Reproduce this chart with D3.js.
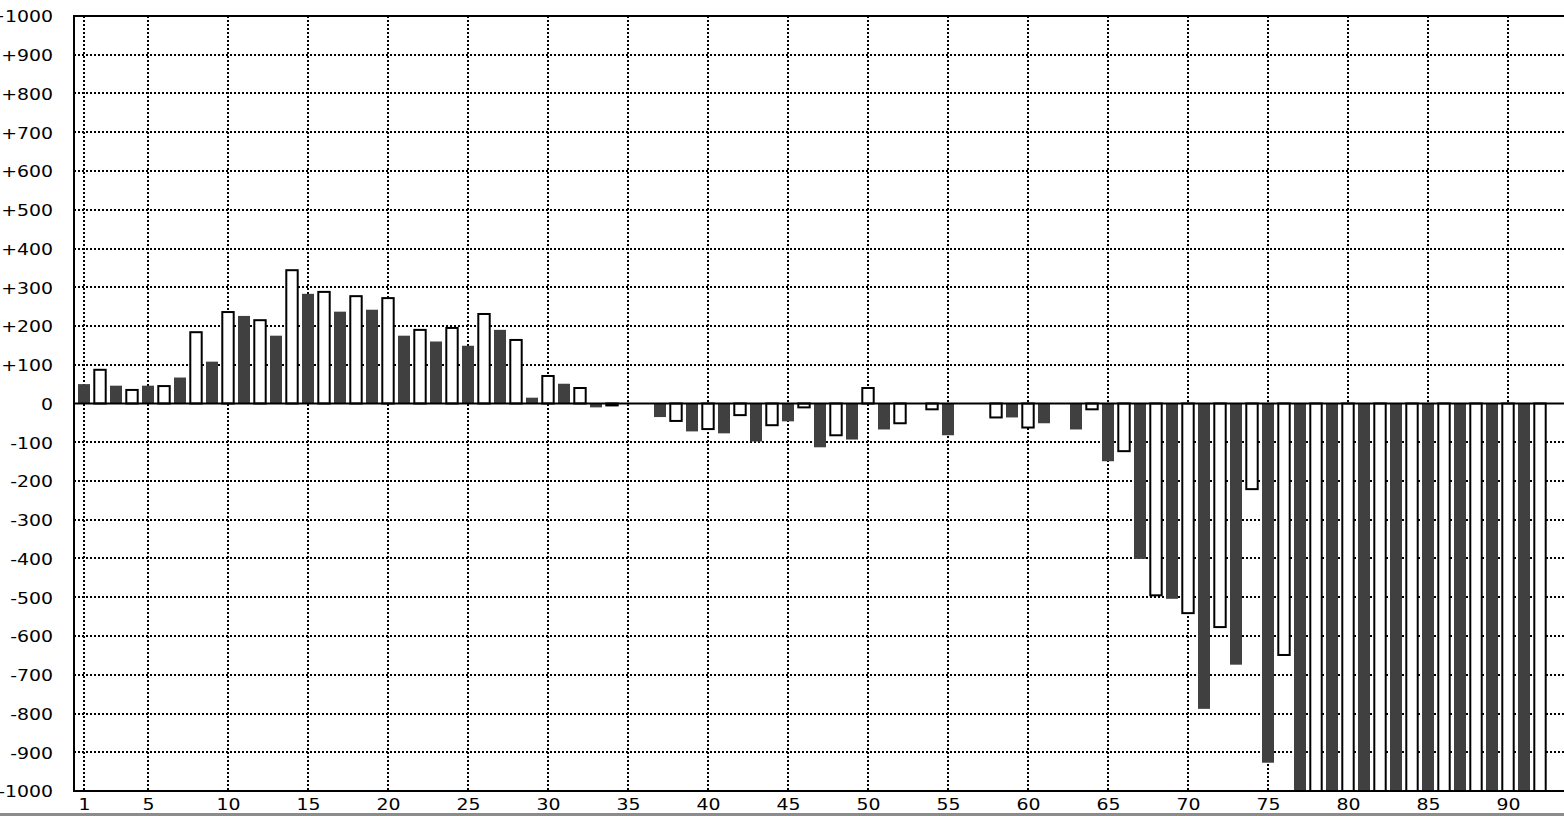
<!DOCTYPE html>
<html>
<head>
<meta charset="utf-8">
<script src="https://cdn.jsdelivr.net/npm/d3@7"></script>
<style>
  html, body { margin: 0; padding: 0; background: #fff; }
  svg { display: block; }
</style>
</head>
<body>
<svg id="chart" width="1564" height="816"></svg>
<script>
// ---- data ----
const categories = d3.range(1, 93); // 1..92
const values = [
  50, 87, 46, 35, 46, 45, 67, 184, 108, 236,
  226, 215, 175, 344, 283, 288, 237, 277, 242, 272,
  175, 190, 160, 195, 149, 231, 190, 164, 15, 71,
  51, 40, -10, -5, null, null, -35, -45, -72, -66,
  -77, -30, -98, -56, -46, -10, -113, -82, -93, 40,
  -67, -51, null, -15, -82, null, null, -36, -36, -62,
  -51, null, -67, -15, -149, -123, -401, -495, -504, -541,
  -788, -577, -674, -221, -927, -649, -1000, -1000, -1000, -1000,
  -1000, -1000, -1000, -1000, -1000, -1000, -1000, -1000, -1000, -1000,
  -1000, -1000
];
const yTicks = [1000, 900, 800, 700, 600, 500, 400, 300, 200, 100, 0,
  -100, -200, -300, -400, -500, -600, -700, -800, -900, -1000];
const xTicks = [1, 5, 10, 15, 20, 25, 30, 35, 40, 45, 50, 55, 60, 65, 70, 75, 80, 85, 90];

// ---- layout ----
const W = 1564, H = 816;
const pL = 74, pR = 1564, pT = 16, pB = 791;
const svg = d3.select('#chart');

const x = d3.scaleLinear().domain([1, 92]).range([84, 1540]);
const y = d3.scaleLinear().domain([-1000, 1000]).range([pB, pT]);
const FONT = '"DejaVu Sans", Verdana, sans-serif';
const SX = 1.18;

svg.append('defs').append('clipPath').attr('id', 'plotclip')
  .append('rect').attr('x', pL).attr('y', pT).attr('width', pR - pL).attr('height', pB - pT);

// grid
const grid = svg.append('g').attr('stroke', '#000').attr('stroke-width', 2).attr('stroke-dasharray', '2,2');
grid.selectAll('line.h').data(yTicks.filter(d => d !== 0 && Math.abs(d) !== 1000)).join('line')
  .attr('class', 'h')
  .attr('x1', pL).attr('x2', pR)
  .attr('y1', d => Math.round(y(d))).attr('y2', d => Math.round(y(d)));
grid.selectAll('line.v').data(xTicks).join('line')
  .attr('class', 'v')
  .attr('x1', d => x(d)).attr('x2', d => x(d))
  .attr('y1', pT).attr('y2', pB);

// bars
const data = categories.map((c, i) => ({ c, v: values[i] })).filter(d => d.v !== null);
const bars = svg.append('g').attr('clip-path', 'url(#plotclip)');
const y0 = y(0);
bars.selectAll('rect.dark').data(data.filter(d => d.c % 2 === 1)).join('rect')
  .attr('class', 'dark')
  .attr('x', d => x(d.c) - 6).attr('width', 12)
  .attr('y', d => Math.min(y(d.v), y0)).attr('height', d => Math.abs(y(d.v) - y0))
  .attr('fill', '#404040');
bars.selectAll('rect.light').data(data.filter(d => d.c % 2 === 0)).join('rect')
  .attr('class', 'light')
  .attr('x', d => x(d.c) - 5.7).attr('width', 11.4)
  .attr('y', d => Math.min(y(d.v), y0)).attr('height', d => Math.abs(y(d.v) - y0))
  .attr('fill', '#fff').attr('stroke', '#000').attr('stroke-width', 2);

// frame lines
const frame = svg.append('g').attr('stroke', '#000').attr('stroke-width', 2);
frame.append('line').attr('x1', pL - 1).attr('x2', pR).attr('y1', pT).attr('y2', pT);
frame.append('line').attr('x1', pL).attr('x2', pR).attr('y1', y0).attr('y2', y0);
frame.append('line').attr('x1', pL - 1).attr('x2', pR).attr('y1', pB).attr('y2', pB);
frame.append('line').attr('x1', pL).attr('x2', pL).attr('y1', pT - 1).attr('y2', pB + 1);

// y axis labels
const fmt = d => d > 0 ? '+' + d : String(d);
const ya = svg.append('g').attr('transform', `translate(${pL},0)`)
  .call(d3.axisLeft(y).tickValues(yTicks).tickFormat(fmt).tickSize(0).tickPadding(0));
ya.select('.domain').remove();
ya.selectAll('text')
  .attr('x', 0).attr('dy', '0.36em')
  .attr('transform', `translate(-21,0) scale(${SX},1)`)
  .attr('font-family', FONT).attr('font-size', 16).attr('fill', '#000');

// x axis labels
const xa = svg.append('g').attr('transform', `translate(0,${pB})`)
  .call(d3.axisBottom(x).tickValues(xTicks).tickFormat(d3.format('d')).tickSize(0).tickPadding(0));
xa.select('.domain').remove();
xa.selectAll('text')
  .attr('y', 0).attr('dy', 0)
  .attr('transform', `translate(0,19) scale(${SX},1)`)
  .attr('font-family', FONT).attr('font-size', 16).attr('fill', '#000');

// bottom grey strip
svg.append('rect').attr('x', 0).attr('y', 813).attr('width', W).attr('height', 3).attr('fill', '#8c8c8c');
</script>
</body>
</html>
